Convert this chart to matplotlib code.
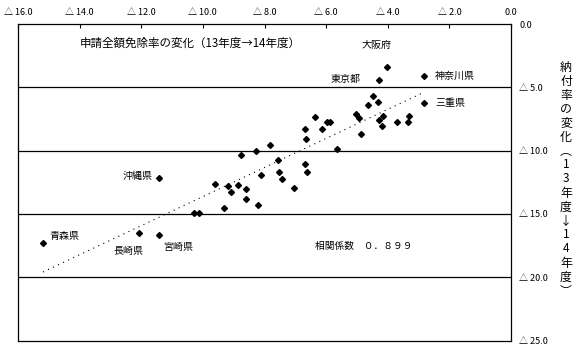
import matplotlib
matplotlib.use("Agg")
import matplotlib.pyplot as plt
from matplotlib.ticker import FuncFormatter, FixedLocator
import numpy as np

plt.rcParams['font.family'] = ['Noto Sans CJK JP', 'DejaVu Sans']

# 申請全額免除率の変化 (x) と 納付率の変化 (y), 13年度→14年度, 47都道府県
names = ['大阪府', '神奈川県', '東京都', '三重県', '', '', '', '', '', '', '', '', '', '', '', '',
         '', '', '', '', '', '', '', '', '', '', '', '', '', '', '', '', '',
         '沖縄県', '', '', '', '', '', '', '', '', '', '', '長崎県', '宮崎県', '青森県']
x_vals = [-4.01, -2.81, -4.27, -2.82, -4.47, -4.33, -4.64, -5.04, -4.92, -4.14,
          -4.29, -4.20, -3.70, -3.31, -3.33, -6.35, -5.97, -5.86, -6.12, -6.70,
          -6.65, -4.88, -5.66, -6.70, -6.63, -7.04, -7.82, -8.28, -8.75, -7.56,
          -7.52, -7.44, -8.11, -11.42, -9.61, -9.18, -8.85, -8.61, -9.09, -8.61,
          -8.21, -9.31, -10.30, -10.12, -12.07, -11.43, -15.19]
y_vals = [-3.42, -4.08, -4.45, -6.22, -5.71, -6.15, -6.37, -7.11, -7.43, -7.27,
          -7.61, -8.06, -7.78, -7.27, -7.76, -7.37, -7.78, -7.78, -8.31, -8.31,
          -9.11, -8.67, -9.90, -11.06, -11.71, -12.97, -9.53, -10.01, -10.37, -10.72,
          -11.69, -12.22, -11.93, -12.15, -12.61, -12.80, -12.69, -13.05, -13.29, -13.80,
          -14.31, -14.55, -14.95, -14.95, -16.49, -16.64, -17.27]
x_ticks = [-16, -14, -12, -10, -8, -6, -4, -2, 0]
y_ticks = [0, -5, -10, -15, -20, -25]
corr_text = '相関係数　０．８９９'
title = '申請全額免除率の変化（13年度→14年度）'
ylabel = '納付率の変化︵13年度↓14年度︶'

W, H = 578, 351
fig = plt.figure(figsize=(W / 100, H / 100), dpi=100)
L, R, T, B = 18, 511, 24, 340.5
ax = fig.add_axes([L / W, (H - B) / H, (R - L) / W, (B - T) / H])

ax.set_xlim(-16, 0)
ax.set_ylim(-25, 0)

for s in ax.spines.values():
    s.set_color('black')
    s.set_linewidth(0.9)

def fmt(v, pos=None):
    if abs(v) < 1e-9:
        return '0.0'
    return '△ %.1f' % abs(v)

ax.xaxis.set_major_locator(FixedLocator(x_ticks))
ax.xaxis.set_major_formatter(FuncFormatter(fmt))
ax.xaxis.tick_top()
ax.tick_params(axis='x', direction='in', length=3, width=0.8, labelsize=6.5, pad=5)

ax.yaxis.set_major_locator(FixedLocator(y_ticks))
ax.yaxis.set_major_formatter(FuncFormatter(fmt))
ax.yaxis.tick_right()
ax.tick_params(axis='y', length=0, labelsize=6.5, pad=6)

for yv in y_ticks[1:-1]:
    ax.axhline(yv, color='black', linewidth=0.9, zorder=1)

# regression line
xa = np.array(x_vals)
ya = np.array(y_vals)
k, b = np.polyfit(xa, ya, 1)
xl = np.array([xa.min(), xa.max()])
ax.plot(xl, k * xl + b, color='black', linewidth=0.8, linestyle=(0, (1, 4)), zorder=2)

ax.plot(x_vals, y_vals, linestyle='none', marker='D', markersize=3.0,
        color='black', zorder=3)

labels = {
    '大阪府': (-4.35, -1.66),
    '東京都': (-5.36, -4.34),
    '神奈川県': (-1.82, -4.11),
    '三重県': (-1.98, -6.24),
    '沖縄県': (-12.11, -12.01),
    '青森県': (-14.51, -16.75),
    '長崎県': (-12.43, -17.93),
    '宮崎県': (-10.81, -17.61),
}
for n, (tx, ty) in labels.items():
    ax.text(tx, ty, n, fontsize=7.2, ha='center', va='center')

ax.text(-6.36, -17.54, corr_text, fontsize=7.0, ha='left', va='center')
ax.text(-13.99, -1.50, title, fontsize=8.3, ha='left', va='center')

# vertical y label (stacked characters)
for i, ch in enumerate(ylabel):
    py = 67 + i * 14
    fig.text(566 / W, 1 - py / H, ch, fontsize=8.6, ha='center', va='center')

fig.savefig('out.png', dpi=100)
